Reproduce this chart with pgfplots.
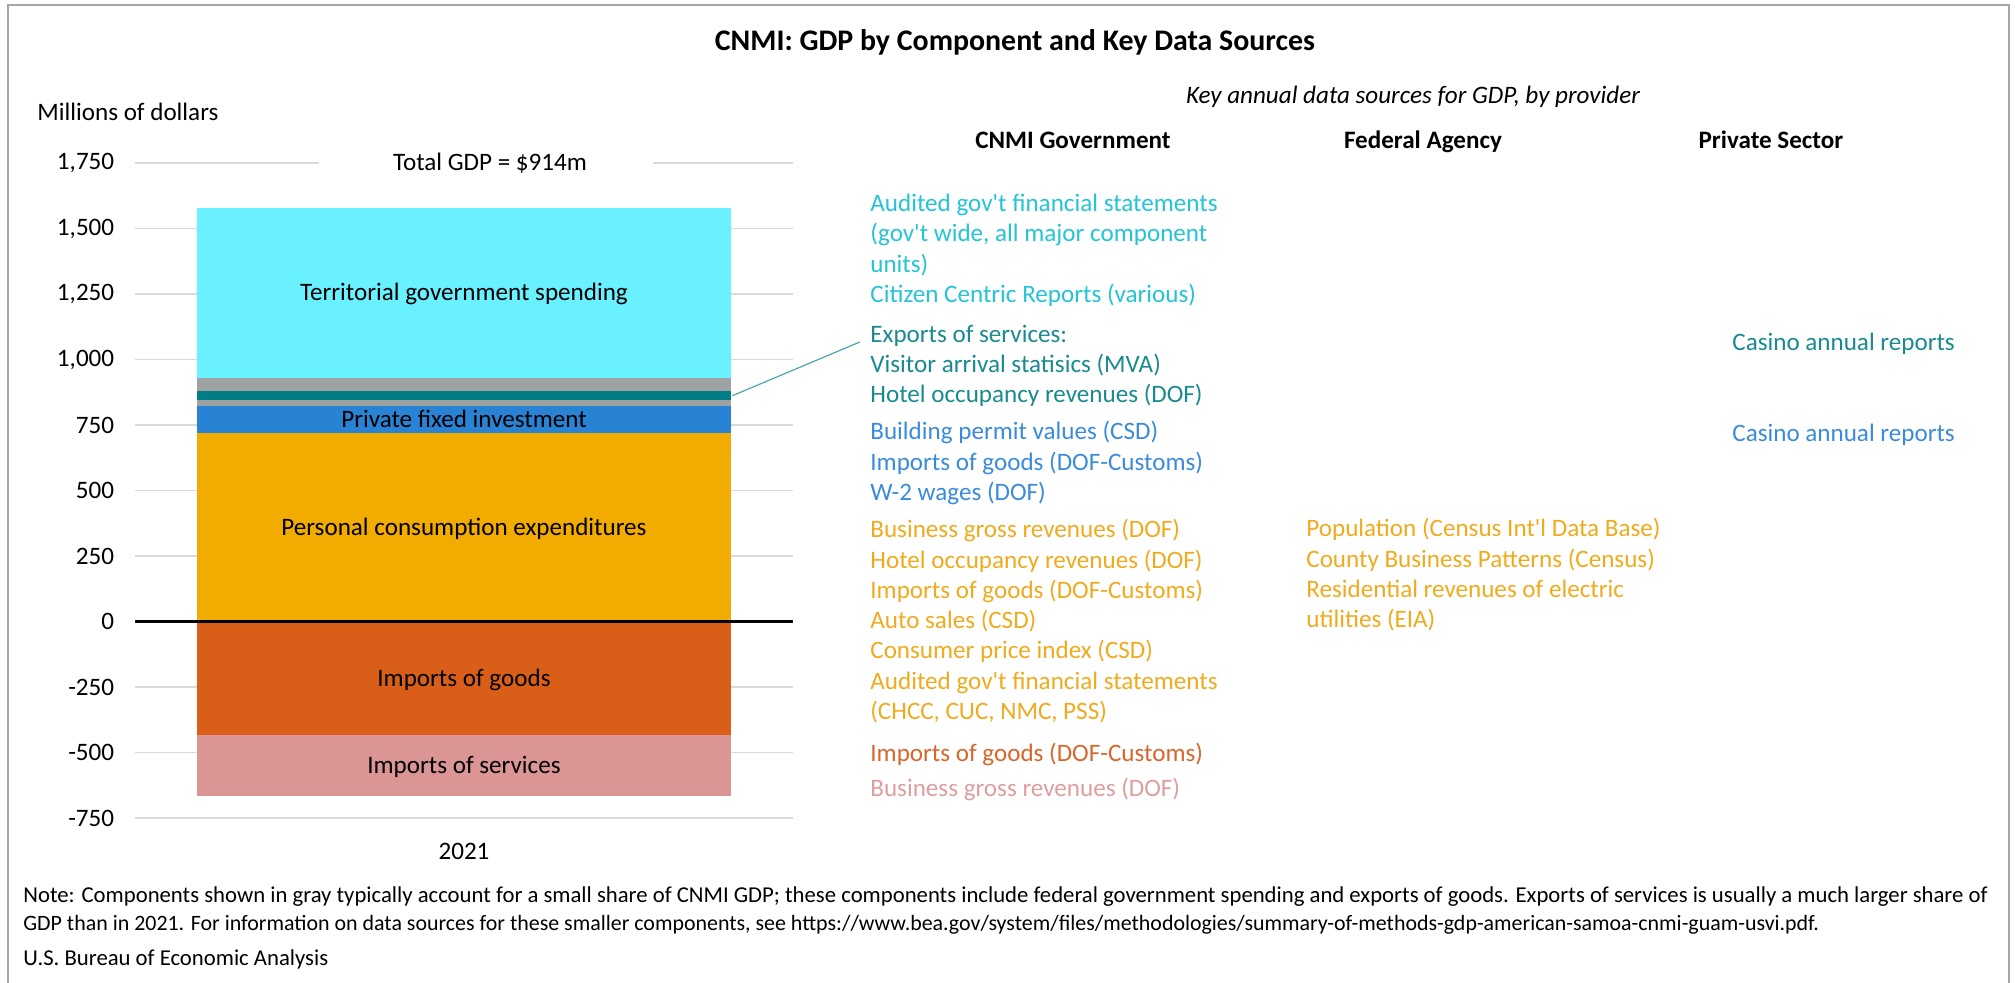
\documentclass[border=0pt]{standalone}
\usepackage{fontspec}
\setmainfont{Carlito}[Ligatures=TeXOff]
\usepackage{pgfplots}
\pgfplotsset{compat=1.18}
\definecolor{terr}{HTML}{69F1FF}
\definecolor{grayc}{HTML}{9FA2A2}
\definecolor{tealc}{HTML}{007D85}
\definecolor{pfi}{HTML}{2983D5}
\definecolor{pce}{HTML}{F2AC00}
\definecolor{impg}{HTML}{D95F19}
\definecolor{imps}{HTML}{DB9595}
\definecolor{gridgray}{HTML}{D9D9D9}
\definecolor{framegray}{HTML}{A6A6A6}
\definecolor{tcyan}{HTML}{24C4D6}
\definecolor{tteal}{HTML}{1A8A8E}
\definecolor{tblue}{HTML}{3A8BDB}
\definecolor{torange}{HTML}{F0AA1E}
\definecolor{tred}{HTML}{D8652B}
\definecolor{tpink}{HTML}{DD9E9F}
\definecolor{leader}{HTML}{4AA7AE}
\newcommand\bodyfont{\fontsize{12.6}{15}\selectfont}
\begin{document}
\begin{tikzpicture}[
  lbl/.style={inner sep=0pt, text height=9.6bp, text depth=1.6bp, font=\bodyfont},
  src/.style={lbl, anchor=west},
  note/.style={inner sep=0pt, anchor=west, text height=8.4bp, text depth=1.4bp},
]
\useasboundingbox (0,0) rectangle (1007.5bp,-491.5bp);
\draw[framegray, line width=1bp] (3.75bp,-2.5bp) rectangle (1004.5bp,-497bp);

% axis 1: grid, ticks, negative components
\begin{axis}[
  at={(67.5bp,-409bp)}, anchor=south west, scale only axis,
  width=329bp, height=327.5bp,
  xmin=-0.5, xmax=0.5, ymin=-750, ymax=1750,
  axis line style={draw=none}, major tick length=0pt,
  ytick={-750,-500,-250,0,250,500,750,1000,1250,1500,1750},
  yticklabels={-750,-500,-250,0,250,500,750,{1,000},{1,250},{1,500},{1,750}},
  ymajorgrids, grid style={gridgray, line width=0.9bp},
  xtick={0}, xticklabels={2021},
  tick label style={font=\bodyfont},
  yticklabel style={xshift=-6.9bp},
  xticklabel style={yshift=-9bp},
  ybar stacked, bar width=267bp, clip=false,
]
\addplot[fill=impg, draw=none] coordinates {(0,-434)};
\addplot[fill=imps, draw=none] coordinates {(0,-232)};
\coordinate (lg) at (axis cs:0,-217);
\coordinate (ls) at (axis cs:0,-550);
\end{axis}

% axis 2: positive components
\begin{axis}[
  at={(67.5bp,-409bp)}, anchor=south west, scale only axis,
  width=329bp, height=327.5bp,
  xmin=-0.5, xmax=0.5, ymin=-750, ymax=1750,
  hide axis, ybar stacked, bar width=267bp, clip=false,
]
\addplot[fill=pce, draw=none] coordinates {(0,720)};
\addplot[fill=pfi, draw=none] coordinates {(0,103)};
\addplot[fill=grayc, draw=none] coordinates {(0,21)};
\addplot[fill=tealc, draw=none] coordinates {(0,34)};
\addplot[fill=grayc, draw=none] coordinates {(0,50)};
\addplot[fill=terr, draw=none] coordinates {(0,652)};
\coordinate (z0) at (axis cs:-0.5,0);
\coordinate (z1) at (axis cs:0.5,0);
\coordinate (la) at (axis cs:0.408,862);
\coordinate (lb) at (axis cs:0.6018,1067);
\coordinate (lt) at (axis cs:0,1255);
\coordinate (lf) at (axis cs:0,771.5);
\coordinate (lp) at (axis cs:0,360);
\end{axis}

\draw[black, line width=1.1bp] (z0) -- (z1);
\draw[leader, line width=0.6bp] (la) -- (lb);
\node[lbl] at (lt) {Territorial government spending};
\node[lbl] at (lf) {Private fixed investment};
\node[lbl] at (lp) {Personal consumption expenditures};
\node[lbl] at (lg) {Imports of goods};
\node[lbl] at (ls) {Imports of services};

\begin{scope}[x=0.5bp,y=-0.5bp]
\fill[white] (319,150) rectangle (653,176);
\node[lbl] at (490,163) {Total GDP = \$914m};
\node[lbl, anchor=west] at (37,113) {Millions of dollars};
\node[inner sep=0pt, text height=11.4bp, text depth=2bp, font=\fontsize{15}{18}\selectfont\bfseries] at (1015,41) {CNMI: GDP by Component and Key Data Sources};
\node[lbl, font=\bodyfont\itshape] at (1413,96) {Key annual data sources for GDP, by provider};
\node[lbl, font=\bodyfont\bfseries] at (1073,141) {CNMI Government};
\node[lbl, font=\bodyfont\bfseries] at (1423,141) {Federal Agency};
\node[lbl, font=\bodyfont\bfseries] at (1771,141) {Private Sector};
% CNMI government column
\node[src, tcyan] at (870,204) {Audited gov't financial statements};
\node[src, tcyan] at (870,234) {(gov't wide, all major component};
\node[src, tcyan] at (870,265) {units)};
\node[src, tcyan] at (870,295) {Citizen Centric Reports (various)};
\node[src, tteal] at (870,335) {Exports of services:};
\node[src, tteal] at (870,365) {Visitor arrival statisics (MVA)};
\node[src, tteal] at (870,395) {Hotel occupancy revenues (DOF)};
\node[src, tblue] at (870,432) {Building permit values (CSD)};
\node[src, tblue] at (870,463) {Imports of goods (DOF-Customs)};
\node[src, tblue] at (870,493) {W-2 wages (DOF)};
\node[src, torange] at (870,530) {Business gross revenues (DOF)};
\node[src, torange] at (870,561) {Hotel occupancy revenues (DOF)};
\node[src, torange] at (870,591) {Imports of goods (DOF-Customs)};
\node[src, torange] at (870,621) {Auto sales (CSD)};
\node[src, torange] at (870,651) {Consumer price index (CSD)};
\node[src, torange] at (870,682) {Audited gov't financial statements};
\node[src, torange] at (870,712) {(CHCC, CUC, NMC, PSS)};
\node[src, tred] at (870,754) {Imports of goods (DOF-Customs)};
\node[src, tpink] at (870,789) {Business gross revenues (DOF)};
% Federal agency column
\node[src, torange] at (1306,529) {Population (Census Int'l Data Base)};
\node[src, torange] at (1306,560) {County Business Patterns (Census)};
\node[src, torange] at (1306,590) {Residential revenues of electric};
\node[src, torange] at (1306,620) {utilities (EIA)};
% Private sector column
\node[src, tteal] at (1732,343) {Casino annual reports};
\node[src, tblue] at (1732,434) {Casino annual reports};
% notes
\node[note, font=\fontsize{11.4}{13}\selectfont] at (23,896) {Note: Components shown in gray typically account for a small share of CNMI GDP; these components include federal government spending and exports of goods. Exports of services is usually a much larger share of};
\node[note, font=\fontsize{11.0}{13}\selectfont] at (23,924) {GDP than in 2021. For information on data sources for these smaller components, see https://www.bea.gov/system/files/methodologies/summary-of-methods-gdp-american-samoa-cnmi-guam-usvi.pdf.};
\node[note, font=\fontsize{11.4}{13}\selectfont] at (23,959) {U.S. Bureau of Economic Analysis};
\end{scope}
\end{tikzpicture}
\end{document}
